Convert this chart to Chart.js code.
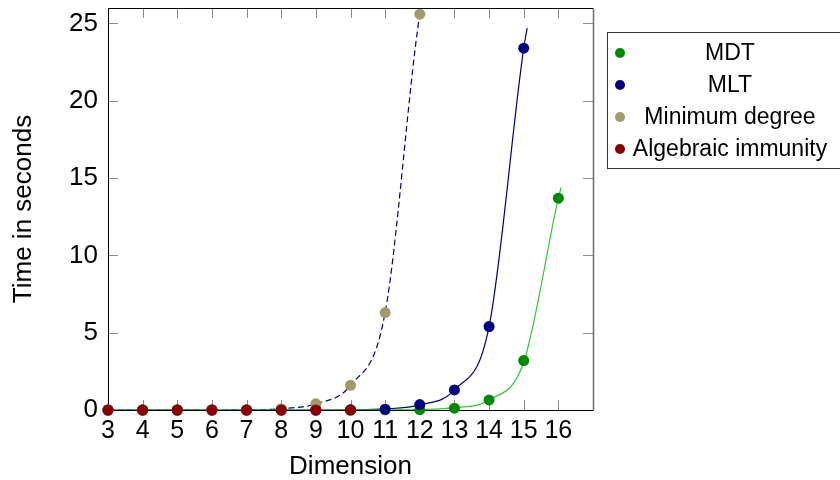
<!DOCTYPE html>
<html>
<head>
<meta charset="utf-8">
<script src="https://cdn.jsdelivr.net/npm/chart.js@4.4.1/dist/chart.umd.min.js"></script>
<style>
  html, body { margin: 0; padding: 0; background: #fff; }
  #wrap { width: 840px; height: 480px; }
</style>
</head>
<body>
<div id="wrap"><canvas id="timeCanvas" width="840" height="480"></canvas></div>
<script>
// measured points (dimension -> seconds)
const dims = [3, 4, 5, 6, 7, 8, 9, 10, 11, 12, 13, 14, 15, 16];
const mdtTimes = [0, 0, 0, 0, 0, 0, 0, 0, 0.01, 0.02, 0.12, 0.65, 3.2, 13.7];
const mltTimes = [0, 0, 0, 0, 0, 0, 0, 0.01, 0.05, 0.35, 1.3, 5.4, 23.4];
const minDegTimes = [0, 0, 0, 0, 0, 0.08, 0.4, 1.6, 6.3, 25.6];
const algImmTimes = [0, 0, 0, 0, 0, 0, 0, 0];

// fitted curves
const mdtFitX = [3, 4, 5, 6, 7, 8, 9, 10, 11, 12, 13, 14, 15, 16, 16.08];
const mdtFitY = [0, 0, 0, 0, 0, 0, 0, 0, 0.005, 0.03, 0.15, 0.65, 3.1, 13.7, 14.4];
const mltFitX = [3, 4, 5, 6, 7, 8, 9, 10, 11, 12, 13, 14, 15, 15.1];
const mltFitY = [0, 0, 0, 0, 0, 0, 0, 0.01, 0.07, 0.33, 1.3, 5.4, 23.4, 24.7];
const minDegFitX = [3, 4, 5, 6, 7, 8, 9, 10, 11, 12, 12.04];
const minDegFitY = [0, 0, 0, 0, 0.01, 0.09, 0.4, 1.6, 6.3, 25.6, 26];

const yTicks = [0, 5, 10, 15, 20, 25];

const fontFam = "'Liberation Sans', Arial, sans-serif";

function pts(xs, ys) {
    return ys.map((y, i) => ({ x: xs[i], y: y }));
}

function markerSet(label, color, ys, order) {
    return {
        label: label,
        data: pts(dims, ys),
        showLine: false,
        backgroundColor: color,
        borderColor: color,
        pointRadius: 5.5,
        pointHoverRadius: 5.5,
        pointBorderWidth: 0,
        clip: false,
        order: order
    };
}

function fitSet(color, xs, ys, dash) {
    return {
        label: "fit",
        data: pts(xs, ys),
        showLine: true,
        borderColor: color,
        borderWidth: 1.2,
        borderDash: dash,
        pointRadius: 0,
        cubicInterpolationMode: "monotone",
        fill: false,
        order: 10
    };
}

const frameAndTicks = {
    id: "frameAndTicks",
    beforeDatasetsDraw(chart) {
        const ctx = chart.ctx;
        const a = chart.chartArea;
        const xs = chart.scales.x, ys = chart.scales.y;
        ctx.save();
        ctx.strokeStyle = "#8c8c8c";
        ctx.lineWidth = 1;
        ctx.beginPath();
        dims.forEach(d => {
            const px = Math.round(xs.getPixelForValue(d)) + 0.5;
            ctx.moveTo(px, a.bottom); ctx.lineTo(px, a.bottom - 10);
            ctx.moveTo(px, a.top); ctx.lineTo(px, a.top + 10);
        });
        yTicks.forEach(v => {
            const py = Math.round(ys.getPixelForValue(v)) + 0.5;
            ctx.moveTo(a.left, py); ctx.lineTo(a.left + 10, py);
            ctx.moveTo(a.right, py); ctx.lineTo(a.right - 10, py);
        });
        ctx.stroke();
        // frame
        const l = Math.round(a.left) + 0.5, r = Math.round(a.right) + 0.5;
        const t = Math.round(a.top) + 0.5, b = Math.round(a.bottom) + 0.5;
        ctx.strokeStyle = "#000";
        ctx.beginPath();
        ctx.moveTo(r, t); ctx.lineTo(l, t); ctx.lineTo(l, b); ctx.lineTo(r, b);
        ctx.stroke();
        ctx.strokeStyle = "#6e6e6e";
        ctx.lineWidth = 1.5;
        ctx.beginPath();
        ctx.moveTo(r, t); ctx.lineTo(r, b);
        ctx.stroke();
        ctx.restore();
    }
};

const boxLegend = {
    id: "boxLegend",
    afterDraw(chart) {
        const ctx = chart.ctx;
        const items = chart.data.datasets.filter(d => d.label !== "fit");
        ctx.save();
        ctx.strokeStyle = "#333";
        ctx.lineWidth = 1;
        ctx.strokeRect(607.5, 32.5, 250, 136);
        ctx.font = "23px " + fontFam;
        ctx.textAlign = "center";
        ctx.textBaseline = "middle";
        items.forEach((d, i) => {
            const y = 53 + i * 32;
            ctx.fillStyle = d.backgroundColor;
            ctx.beginPath();
            ctx.arc(620, y, 5, 0, Math.PI * 2);
            ctx.fill();
            ctx.fillStyle = "#000";
            ctx.fillText(d.label, 730, y + 1);
        });
        ctx.restore();
    }
};

const timeCanvas = document.getElementById("timeCanvas");

const timeChart = new Chart(timeCanvas, {
    type: "scatter",
    data: {
        datasets: [
            markerSet("MDT", "#008a00", mdtTimes, 4),
            markerSet("MLT", "#000080", mltTimes, 3),
            markerSet("Minimum degree", "#a39a68", minDegTimes, 2),
            markerSet("Algebraic immunity", "#8a0000", algImmTimes, 1),
            fitSet("#2ecc2e", mdtFitX, mdtFitY, []),
            fitSet("#000080", mltFitX, mltFitY, []),
            fitSet("#000080", minDegFitX, minDegFitY, [6, 3.5])
        ]
    },
    options: {
        responsive: false,
        animation: false,
        events: [],
        layout: {
            padding: { left: 0, top: 8, right: 247, bottom: 0 }
        },
        plugins: {
            legend: { display: false },
            tooltip: { enabled: false }
        },
        scales: {
            x: {
                type: "linear",
                min: 3,
                max: 17,
                afterBuildTicks: s => { s.ticks = dims.map(v => ({ value: v })); },
                afterFit: s => {
                    s.height = 70;
                    s.paddingLeft = 0;
                    s.paddingRight = 0;
                },
                border: { display: false },
                grid: { display: false, drawTicks: false },
                ticks: {
                    autoSkip: false,
                    maxRotation: 0,
                    minRotation: 0,
                    padding: 6,
                    color: "#000",
                    font: { family: fontFam, size: 25 }
                },
                title: {
                    display: true,
                    text: "Dimension",
                    color: "#000",
                    padding: 0,
                    font: { family: fontFam, size: 26, lineHeight: 1 }
                }
            },
            y: {
                min: 0,
                max: 26,
                afterBuildTicks: s => { s.ticks = yTicks.map(v => ({ value: v })); },
                afterFit: s => {
                    s.width = 108;
                    s.paddingTop = 0;
                    s.paddingBottom = 0;
                },
                border: { display: false },
                grid: { display: false, drawTicks: false },
                ticks: {
                    autoSkip: false,
                    padding: 10,
                    color: "#000",
                    font: { family: fontFam, size: 26 }
                },
                title: {
                    display: true,
                    text: "Time in seconds",
                    color: "#000",
                    padding: { top: 11, bottom: 0 },
                    font: { family: fontFam, size: 26, lineHeight: 1 }
                }
            }
        }
    },
    plugins: [frameAndTicks, boxLegend]
});
</script>
</body>
</html>
